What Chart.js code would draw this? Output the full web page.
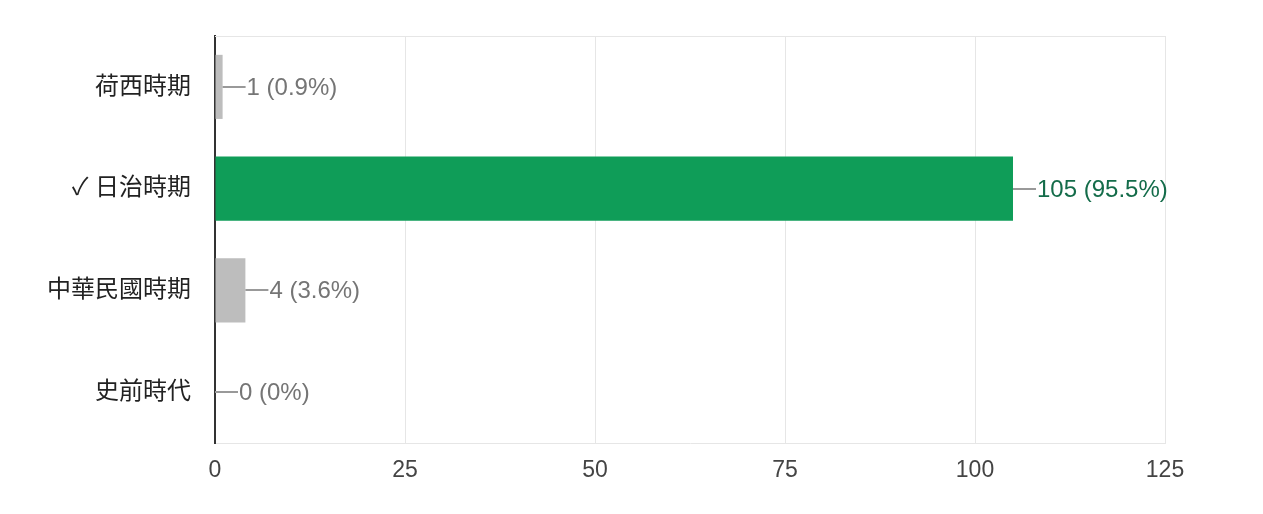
<!DOCTYPE html>
<html>
<head>
<meta charset="utf-8">
<script src="https://cdn.jsdelivr.net/npm/chart.js@4"></script>
<style>
  html, body { margin: 0; padding: 0; background: #fff; }
  #wrap { width: 1263px; height: 514px; }
</style>
</head>
<body>
<div id="wrap"><canvas id="answers"></canvas></div>
<script>
// answer options (the correct one has the check mark)
const categories = ["荷西時期", "✓ 日治時期", "中華民國時期", "史前時代"];
const counts = [1, 105, 4, 0];
const percents = ["0.9%", "95.5%", "3.6%", "0%"];
const correctIndex = 1;
const xTicks = [0, 25, 50, 75, 100, 125];

const fontFamily = '"Liberation Sans", Arial, "Noto Sans CJK TC", "DejaVu Sans", sans-serif';
const GREEN = "#0f9d58";
const GRAY_BAR = "#bdbdbd";
const GRID = "#e6e6e6";

// draws the little leader line + "n (p%)" after every bar
const valueLabels = {
    id: "valueLabels",
    beforeDatasetsDraw(chart) {
        // light line along the top of the plot
        const ctx = chart.ctx;
        const area = chart.chartArea;
        ctx.save();
        ctx.strokeStyle = GRID;
        ctx.lineWidth = 1;
        ctx.beginPath();
        ctx.moveTo(area.left, area.top + 0.5);
        ctx.lineTo(area.right, area.top + 0.5);
        ctx.stroke();
        ctx.restore();
    },
    afterDatasetsDraw(chart) {
        const ctx = chart.ctx;
        const meta = chart.getDatasetMeta(0);
        ctx.save();
        ctx.font = "24px " + fontFamily;
        ctx.textBaseline = "middle";
        ctx.textAlign = "left";
        meta.data.forEach((bar, i) => {
            const x = bar.x;
            const y = Math.round(bar.y);
            ctx.strokeStyle = "#999";
            ctx.lineWidth = 2;
            ctx.beginPath();
            ctx.moveTo(x, y);
            ctx.lineTo(x + 23, y);
            ctx.stroke();
            ctx.fillStyle = i === correctIndex ? "#146c4a" : "#757575";
            ctx.fillText(counts[i] + " (" + percents[i] + ")", x + 24, y + 1);
        });
        ctx.restore();
    }
};

const ctx = document.getElementById("answers").getContext("2d");
new Chart(ctx, {
    type: "bar",
    data: {
        labels: categories,
        datasets: [{
            data: counts,
            backgroundColor: counts.map((c, i) => i === correctIndex ? GREEN : GRAY_BAR),
            borderWidth: 0,
            categoryPercentage: 1,
            barPercentage: 0.63
        }]
    },
    options: {
        indexAxis: "y",
        responsive: true,
        maintainAspectRatio: false,
        animation: false,
        layout: { padding: { top: 36, right: 98, left: 0, bottom: 0 } },
        plugins: {
            legend: { display: false },
            tooltip: { enabled: false }
        },
        scales: {
            x: {
                min: 0,
                max: 125,
                afterFit(scale) { scale.height = 71; },
                afterBuildTicks(scale) { scale.ticks = xTicks.map(v => ({ value: v })); },
                grid: { color: GRID, lineWidth: 1, drawTicks: false },
                border: { color: GRID, width: 1 },
                ticks: {
                    padding: 14,
                    color: "#444",
                    font: { family: fontFamily, size: 23 }
                }
            },
            y: {
                afterFit(scale) {
                    scale.width = 215;
                    // the tick padding would otherwise push the plot down
                    scale.paddingTop = 0;
                    scale.paddingBottom = 0;
                },
                grid: { display: false, drawTicks: false },
                border: { color: "#333", width: 2 },
                ticks: {
                    padding: 24,
                    color: "#222",
                    font: { family: fontFamily, size: 24 }
                }
            }
        }
    },
    plugins: [valueLabels]
});
</script>
</body>
</html>
